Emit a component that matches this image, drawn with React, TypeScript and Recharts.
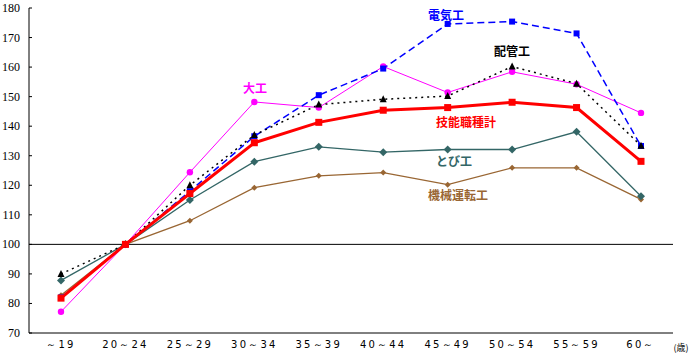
import { Line, LineChart, ReferenceLine, XAxis, YAxis } from "recharts";

const ageGroups = ["～19", "20～24", "25～29", "30～34", "35～39", "40～44", "45～49", "50～54", "55～59", "60～"];
const denkiko = [82, 100, 118, 136.6, 150.5, 159.5, 174.6, 175.4, 171.4, 133.3];
const haikanko = [90, 100, 120, 137, 147.3, 149.1, 150.2, 160.2, 154.4, 133.4];
const daiku = [77.2, 100, 124.4, 148.2, 146.3, 160.2, 151.4, 158.4, 154.2, 144.5];
const ginouTotal = [81.8, 100, 117.2, 134.4, 141.3, 145.4, 146.3, 148.1, 146.3, 128.1];
const tobiko = [87.8, 100, 115, 128, 133, 131.2, 132.1, 132.1, 138.1, 116.3];
const kikaiUntenko = [82.8, 100, 108, 119.2, 123.2, 124.3, 120.2, 125.9, 125.9, 115.2];
const yTicks = [70, 80, 90, 100, 110, 120, 130, 140, 150, 160, 170, 180];

const data = ageGroups.map((age, i) => ({
  age,
  denkiko: denkiko[i],
  haikanko: haikanko[i],
  daiku: daiku[i],
  ginouTotal: ginouTotal[i],
  tobiko: tobiko[i],
  kikaiUntenko: kikaiUntenko[i],
}));

const jpFont = "'Noto Sans CJK JP', sans-serif";

const squareDot = (size: number, color: string) => (props: any) => {
  const { cx, cy, index } = props;
  return <rect key={index} x={cx - size / 2} y={cy - size / 2} width={size} height={size} fill={color} />;
};

const diamondDot = (r: number, color: string) => (props: any) => {
  const { cx, cy, index } = props;
  return (
    <polygon
      key={index}
      points={`${cx},${cy - r} ${cx + r},${cy} ${cx},${cy + r} ${cx - r},${cy}`}
      fill={color}
    />
  );
};

const triangleDot = (props: any) => {
  const { cx, cy, index } = props;
  return <polygon key={index} points={`${cx},${cy - 4} ${cx + 3.5},${cy + 3} ${cx - 3.5},${cy + 3}`} fill="#000" />;
};

const circleDot = (props: any) => {
  const { cx, cy, index } = props;
  return <circle key={index} cx={cx} cy={cy} r={3.2} fill="#FF00FF" />;
};

const YTick = (props: any) => {
  const { x, y, payload } = props;
  return (
    <g>
      <line x1={x} y1={y} x2={x + 3} y2={y} stroke="#000" />
      <text
        x={x - 9}
        y={y}
        dy={4}
        textAnchor="end"
        fontSize={12}
        fontFamily="'Liberation Serif', serif"
        fill="#000"
      >
        {payload.value}
      </text>
    </g>
  );
};

const seriesLabels = [
  { text: "電気工", color: "#0000FF", x: 446, y: 15 },
  { text: "配管工", color: "#000000", x: 512, y: 51 },
  { text: "大工", color: "#FF00FF", x: 255, y: 88 },
  { text: "技能職種計", color: "#FF0000", x: 466, y: 122 },
  { text: "とび工", color: "#336666", x: 454, y: 161 },
  { text: "機械運転工", color: "#996633", x: 458, y: 195 },
];

export default function App() {
  return (
    <div style={{ position: "absolute", left: 0, top: 0, width: 693, height: 356, background: "#fff" }}>
      <LineChart width={693} height={356} data={data} margin={{ top: 8, right: 20, bottom: 0, left: 0 }}>
        <XAxis
          dataKey="age"
          height={23}
          axisLine={{ stroke: "#000" }}
          tickLine={false}
          tickSize={0}
          tickMargin={8}
          padding={{ left: 32, right: 32 }}
          interval={0}
          tick={{ fontSize: 10, fill: "#000", fontFamily: "'DejaVu Sans', sans-serif", letterSpacing: 2.2 }}
        />
        <YAxis
          width={29}
          domain={[70, 180]}
          ticks={yTicks}
          axisLine={{ stroke: "#000" }}
          tickLine={false}
          tickSize={0}
          tickMargin={0}
          tick={<YTick />}
          interval={0}
        />
        <ReferenceLine y={100} stroke="#000" strokeWidth={1} />
        <Line
          dataKey="kikaiUntenko"
          stroke="#996633"
          strokeWidth={1.3}
          dot={diamondDot(3, "#996633")}
          isAnimationActive={false}
        />
        <Line
          dataKey="tobiko"
          stroke="#336666"
          strokeWidth={1.3}
          dot={diamondDot(4, "#336666")}
          isAnimationActive={false}
        />
        <Line dataKey="daiku" stroke="#FF00FF" strokeWidth={1} dot={circleDot} isAnimationActive={false} />
        <Line
          dataKey="denkiko"
          stroke="#0000FF"
          strokeWidth={1.5}
          strokeDasharray="7 4"
          dot={squareDot(6, "#0000FF")}
          isAnimationActive={false}
        />
        <Line
          dataKey="haikanko"
          stroke="#000"
          strokeWidth={1.5}
          strokeDasharray="2 4"
          dot={triangleDot}
          isAnimationActive={false}
        />
        <Line
          dataKey="ginouTotal"
          stroke="#FF0000"
          strokeWidth={3}
          dot={squareDot(7, "#FF0000")}
          isAnimationActive={false}
        />
      </LineChart>
      {seriesLabels.map((l) => (
        <div
          key={l.text}
          style={{
            position: "absolute",
            left: l.x,
            top: l.y,
            transform: "translate(-50%, -50%)",
            color: l.color,
            fontFamily: jpFont,
            fontWeight: 700,
            fontSize: 12,
            lineHeight: 1,
            whiteSpace: "nowrap",
          }}
        >
          {l.text}
        </div>
      ))}
      <div
        style={{
          position: "absolute",
          left: 681,
          top: 347,
          transform: "translate(-50%, -50%)",
          fontFamily: jpFont,
          fontSize: 9,
          lineHeight: 1,
          whiteSpace: "nowrap",
        }}
      >
        (歳)
      </div>
    </div>
  );
}
